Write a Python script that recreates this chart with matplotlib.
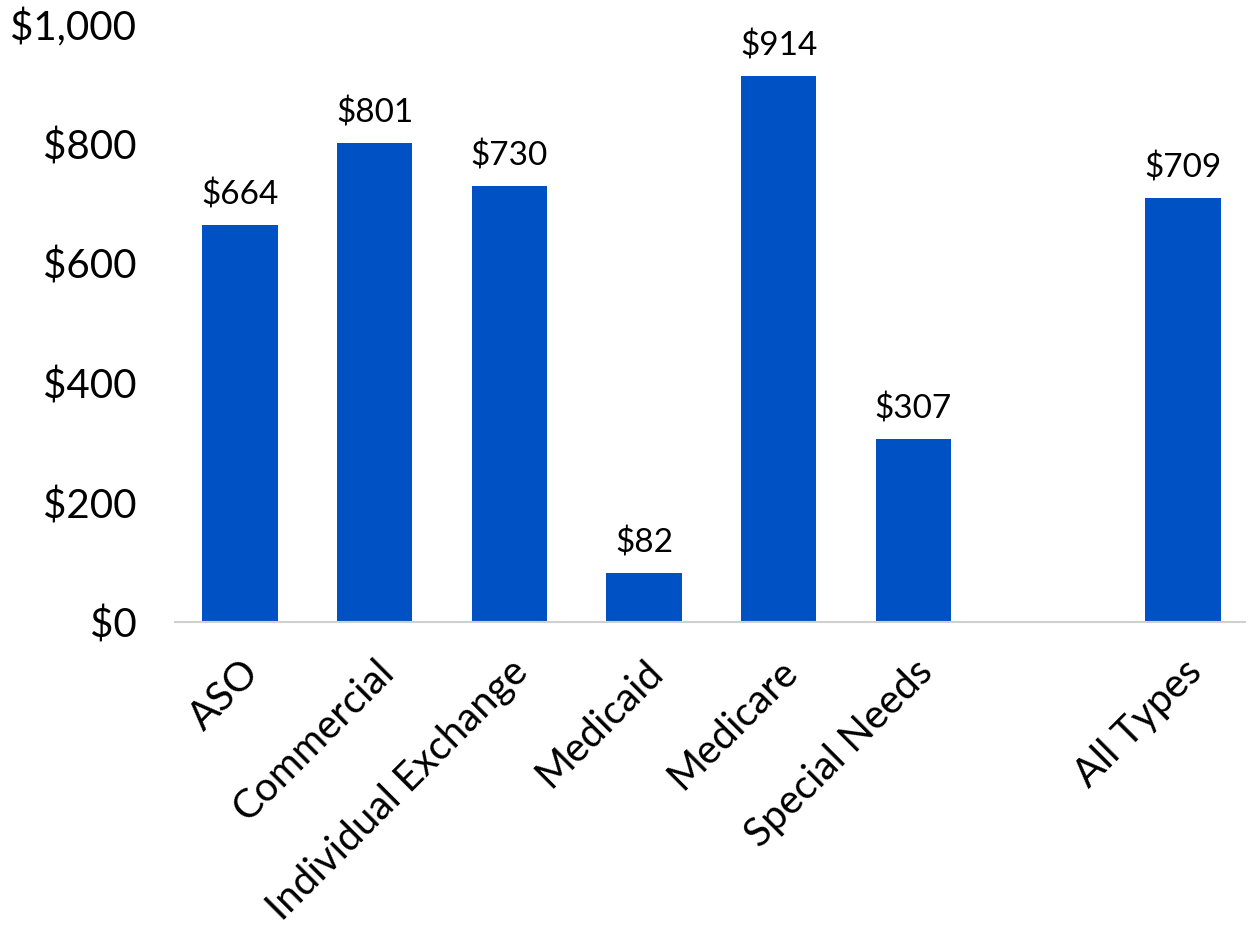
import numpy as np
import matplotlib.pyplot as plt

# Datos del grafico
categorias = ['ASO', 'Commercial', 'Individual Exchange', 'Medicaid',
              'Medicare', 'Special Needs', 'All Types']
valores = [664, 801, 730, 82, 914, 307, 709]
posiciones = [0, 1, 2, 3, 4, 5, 7]
yticks = [0, 200, 400, 600, 800, 1000]
ytick_labels = ['$0', '$200', '$400', '$600', '$800', '$1,000']

plt.rcParams['font.family'] = ['Lato', 'DejaVu Sans']
azul = '#0052c4'

fig = plt.figure(figsize=(12.6, 9.33), dpi=100)
ax = fig.add_axes([0.139, 0.333, 0.849, 0.641])

ax.bar(posiciones, valores, width=0.56, color=azul, zorder=2)
for x, v in zip(posiciones, valores):
    ax.text(x, v + 24, '$' + str(v), ha='center', va='bottom', fontsize=24,
            color='black')

ax.set_xlim(-0.48, 7.46)
ax.set_ylim(0, 1000)
ax.set_yticks(yticks)
ax.set_yticklabels(ytick_labels, fontsize=29)
ax.set_xticks(posiciones)
ax.set_xticklabels(categorias, fontsize=29, rotation=45, ha='right',
                   rotation_mode='anchor')

for s in ['top', 'right', 'left']:
    ax.spines[s].set_visible(False)
ax.spines['bottom'].set_color('#d0d0d0')
ax.spines['bottom'].set_linewidth(1.5)
ax.tick_params(axis='y', length=0, pad=28)
ax.tick_params(axis='x', length=0, pad=22)

fig.savefig('out.png', dpi=100)
